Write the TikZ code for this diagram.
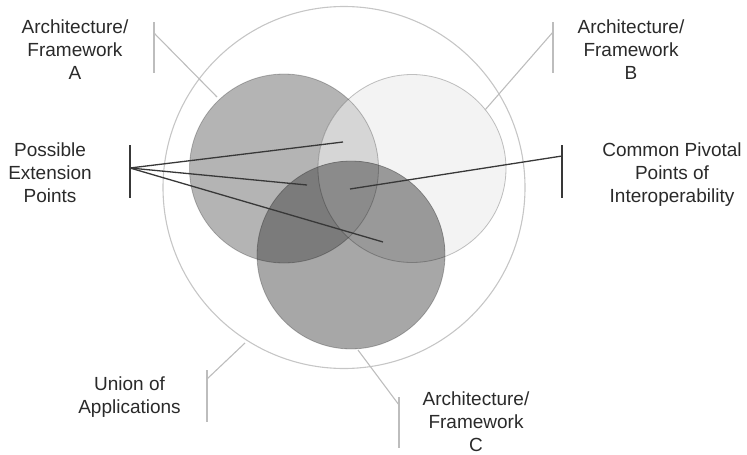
\documentclass[tikz,border=0pt]{standalone}
\usepackage{fontspec}
\setmainfont{Liberation Sans}
\definecolor{txt}{HTML}{2A2A2A}
\definecolor{leader}{HTML}{BDBDBD}
\definecolor{darkln}{HTML}{383838}
\definecolor{outer}{HTML}{C6C6C6}
\definecolor{fA}{HTML}{B4B4B4}
\definecolor{fB}{HTML}{F3F3F3}
\definecolor{fC}{HTML}{A7A7A7}
\definecolor{fAB}{HTML}{D6D6D6}
\definecolor{fAC}{HTML}{7B7B7B}
\definecolor{fBC}{HTML}{999999}
\definecolor{fABC}{HTML}{8B8B8B}
\begin{document}
\begin{tikzpicture}[x=1pt,y=-1pt,
  lbl/.style={align=center, font=\fontsize{19}{23}\selectfont, text=txt, inner sep=0pt},
  lite/.style={draw=leader, line width=1.1pt},
  dark/.style={draw=darkln, line width=1.3pt},
  rim/.style={draw=black, draw opacity=0.24, line width=0.8pt}]
\useasboundingbox (0,0) rectangle (747,455);
% centres
\coordinate (cO) at (344,187.5);
\coordinate (cA) at (284,168.5);
\coordinate (cB) at (412,168.5);
\coordinate (cC) at (351,255);
% outer circle
\draw[draw=outer, line width=1.1pt] (cO) circle (181);
% circles
\fill[fA] (cA) circle (94.5);
\fill[fB] (cB) circle (94);
\fill[fC] (cC) circle (94);
\begin{scope}
  \clip (cA) circle (94.5);
  \fill[fAB] (cB) circle (94);
  \fill[fAC] (cC) circle (94);
  \clip (cB) circle (94);
  \fill[fABC] (cC) circle (94);
\end{scope}
\begin{scope}[even odd rule]
  \clip (-10,-10) rectangle (760,470) (cA) circle (94.5);
  \clip (cB) circle (94);
  \fill[fBC] (cC) circle (94);
\end{scope}
\draw[rim] (cA) circle (94.5);
\draw[rim] (cB) circle (94);
\draw[rim] (cC) circle (94);
% labels
\node[lbl] (labA) at (75,50) {Architecture/\\Framework\\A};
\node[lbl] (labB) at (631,50) {Architecture/\\Framework\\B};
\node[lbl] (labE) at (50,173) {Possible\\Extension\\Points};
\node[lbl] (labP) at (672,175) {Common Pivotal\\Points of\\Interoperability};
\node[lbl] (labU) at (129.5,397) {Union of\\Applications};
\node[lbl] (labC) at (476,421.5) {Architecture/\\Framework\\C};
% leader coordinates
\coordinate (aT) at (154,22); \coordinate (aB) at (154,73); \coordinate (aM) at (154,33); \coordinate (aE) at (217,97);
\coordinate (bT) at (553,22); \coordinate (bB) at (553,73); \coordinate (bM) at (553,32); \coordinate (bE) at (485,110);
\coordinate (uT) at (207,370); \coordinate (uB) at (207,422); \coordinate (uM) at (207,379); \coordinate (uE) at (245,343);
\coordinate (kT) at (399,397); \coordinate (kB) at (399,448); \coordinate (kM) at (399,405); \coordinate (kE) at (358,350);
\coordinate (eT) at (130,145); \coordinate (eB) at (130,198); \coordinate (eM) at (130,168);
\coordinate (e1) at (343,142); \coordinate (e2) at (307,185); \coordinate (e3) at (383,242);
\coordinate (pT) at (562,145); \coordinate (pB) at (562,198); \coordinate (pM) at (562,156); \coordinate (pE) at (350,189);
% light leaders
\draw[lite] (aT) -- (aB); \draw[lite] (aM) -- (aE);
\draw[lite] (bT) -- (bB); \draw[lite] (bM) -- (bE);
\draw[lite] (uT) -- (uB); \draw[lite] (uM) -- (uE);
\draw[lite] (kT) -- (kB); \draw[lite] (kM) -- (kE);
% dark leaders
\draw[dark] (eT) -- (eB);
\draw[dark] (eM) -- (e1); \draw[dark] (eM) -- (e2); \draw[dark] (eM) -- (e3);
\draw[dark] (pT) -- (pB); \draw[dark] (pM) -- (pE);
\end{tikzpicture}
\end{document}
